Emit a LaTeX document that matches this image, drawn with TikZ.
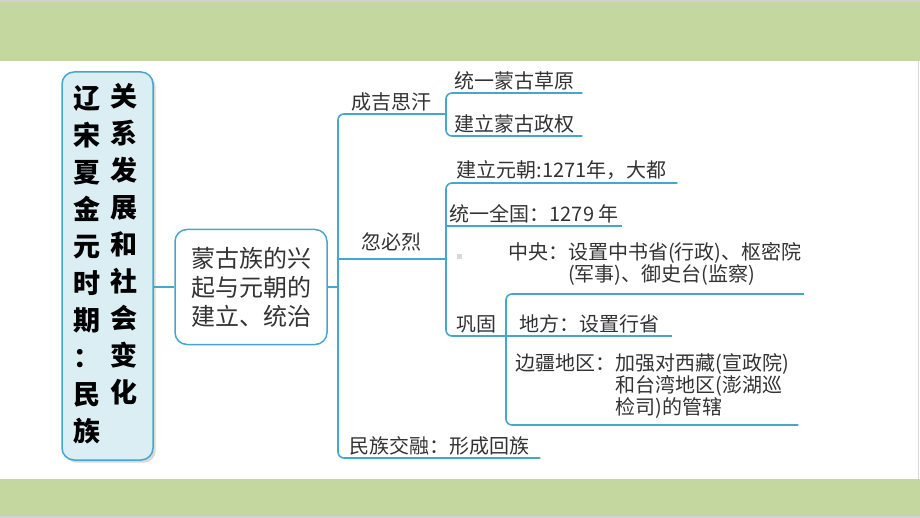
\documentclass[tikz,border=0pt]{standalone}
\usepackage{fontspec}
\setmainfont{Noto Sans CJK SC}
\usetikzlibrary{shadows}
\definecolor{bandgreen}{RGB}{196,215,159}
\definecolor{linkblue}{RGB}{70,166,205}
\definecolor{rootfill}{RGB}{218,238,243}
\definecolor{txtgray}{RGB}{51,51,51}

\begin{document}
\begin{tikzpicture}[x=1pt, y=-1pt,
    link/.style={draw=linkblue, line width=1.6pt},
    leaf/.style={anchor=south west, inner xsep=2pt, inner ysep=3pt, text=txtgray,
                 font=\fontsize{20}{22}\selectfont},
    col/.style={align=center, inner sep=0pt, font=\bfseries\fontsize{27}{37}\selectfont}]
    \useasboundingbox (0,0) rectangle (920,518);
    \fill[black!18] (0,0) rectangle (920,2);
    \fill[bandgreen] (0,2) rectangle (920,61);
    \fill[bandgreen] (0,479) rectangle (920,516);
    \fill[black!18] (0,516) rectangle (920,518);
    \draw[black!15, line width=1pt] (918.5,61) -- (918.5,479);

    \node[draw=linkblue, line width=1.5pt, fill=rootfill, rounded corners=12pt,
          minimum width=91pt, minimum height=388pt,
          drop shadow={opacity=0.3}] (root) at (107.5,266) {};
    \node[col] (rootl) at (87,265) {辽\\宋\\夏\\金\\元\\时\\期\\：\\民\\族};
    \node[col] (rootr) at (124,244) {关\\系\\发\\展\\和\\社\\会\\变\\化};

    \node[draw=linkblue, line width=1.5pt, rounded corners=12pt, minimum width=152pt,
          minimum height=115pt, align=center, text=txtgray,
          font=\fontsize{24}{29}\selectfont] (mid) at (251,287)
          {蒙古族的兴\\起与元朝的\\建立、统治};

    \node[leaf, minimum width=107pt] (cj) at (338,114) {成吉思汗};
    \node[leaf, minimum width=107pt, inner ysep=8pt] (hb) at (338,259) {忽必烈};
    \node[leaf, minimum width=202pt] (mz) at (338,458) {民族交融：形成回族};
    \node[leaf, minimum width=136pt] (t1) at (446,93) {统一蒙古草原};
    \node[leaf, minimum width=136pt] (t2) at (446,136) {建立蒙古政权};
    \node[leaf, minimum width=231pt] (y1) at (446,183) {建立元朝:1271年，大都};
    \node[leaf, minimum width=176pt] (y2) at (446,226) {统一全国：1279 年};
    \node[leaf, minimum width=60pt] (gg) at (446,336) {巩固};
    \node[leaf, minimum width=166pt] (df) at (506,336) {地方：设置行省};
    \node[leaf, minimum width=291pt, inner ysep=8pt, align=left] (zy) at (506,294)
        {中央：设置中书省(行政)、枢密院\\\hspace*{60pt}(军事)、御史台(监察)};
    \node[leaf, minimum width=292pt, inner ysep=6pt, align=left] (bj) at (506,425)
        {边疆地区：加强对西藏(宣政院)\\\hspace*{100pt}和台湾地区(澎湖巡\\\hspace*{100pt}检司)的管辖};
    \fill[black!15] (457,254) rectangle (462,259);

    \draw[link] (mid.west) -- (mid.west -| root.east);
    \draw[link] (mid.east) -- (mid.east -| cj.south west);
    \draw[link, rounded corners=6pt] (cj.south east) -- (cj.south west) -- (mz.south west) -- (mz.south east);
    \draw[link, rounded corners=6pt] (t1.south east) -- (t1.south west) -- (t2.south west) -- (t2.south east);
    \draw[link, rounded corners=6pt] (y1.south east) -- (y1.south west) -- (gg.south west) -- (gg.south east);
    \draw[link, rounded corners=6pt] (zy.south east) -- (zy.south west) -- (bj.south west) -- (bj.south east);
    \foreach \n in {hb, y2, df}
        \draw[link] (\n.south west) -- (\n.south east);

\end{tikzpicture}
\end{document}
